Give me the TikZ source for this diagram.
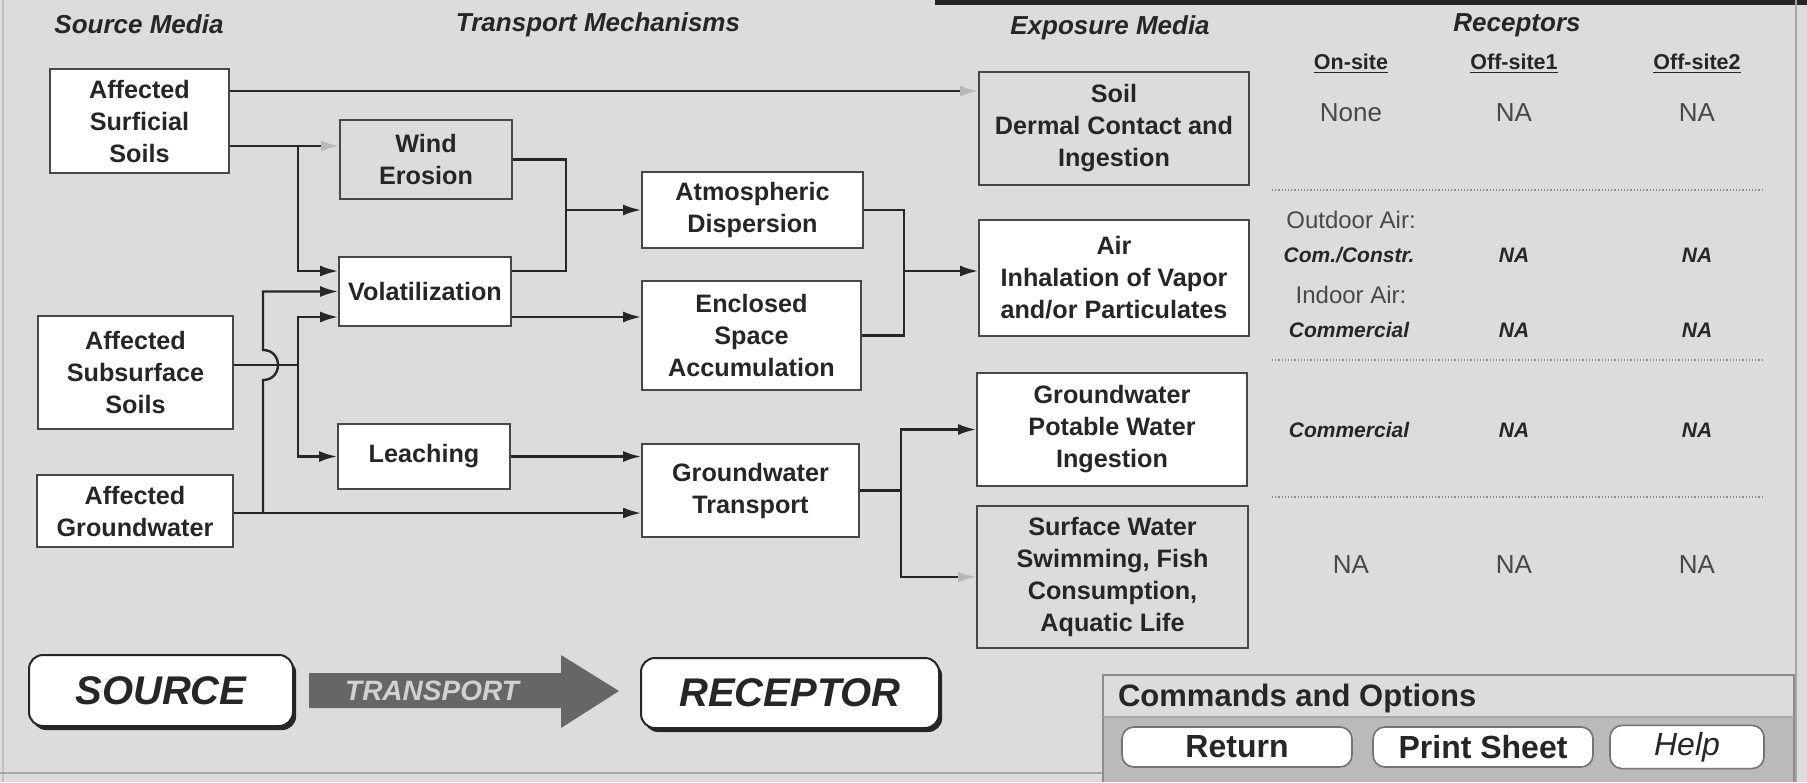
\documentclass[tikz,border=0pt]{standalone}
\usepackage{fontspec}
\setmainfont{Liberation Sans}
\usetikzlibrary{arrows.meta,shadows}

\definecolor{panelbg}{RGB}{220,220,220}
\definecolor{cmdbg}{RGB}{186,186,186}
\definecolor{edge}{RGB}{72,72,72}
\definecolor{ink}{RGB}{38,38,38}
\definecolor{soft}{RGB}{72,72,72}

\begin{document}
\begin{tikzpicture}[x=0.5pt,y=-0.5pt,
    box/.style={draw=edge, line width=0.9pt, fill=white, align=center, inner sep=0pt,
      text=ink, font=\fontsize{12.6}{16}\selectfont\bfseries},
    offbox/.style={box, fill=none},
    head/.style={text=ink, font=\fontsize{13}{16}\selectfont\bfseries\itshape},
    colhead/.style={text=ink, font=\fontsize{10.75}{13}\selectfont\bfseries},
    plain/.style={text=soft, font=\fontsize{13}{15}\selectfont},
    small/.style={text=soft, font=\fontsize{12}{14}\selectfont},
    hit/.style={text=ink, font=\fontsize{10.5}{12}\selectfont\bfseries\itshape},
    link/.style={draw=ink, line width=1.2pt},
    arr/.style={link, -{Latex[length=9pt,width=5.5pt]}},
    faint/.style={link, -{Latex[length=9pt,width=5.5pt,color=black!28]}},
    bigbtn/.style={draw=ink, line width=1pt, fill=white, rounded corners=7pt,
      drop shadow={opacity=1, fill=ink, shadow xshift=1.6pt, shadow yshift=-2pt},
      text=ink, font=\fontsize{20}{24}\selectfont\bfseries\itshape},
    cmdbtn/.style={draw=black!55, line width=0.8pt, fill=white, rounded corners=6pt,
      text=ink, font=\fontsize{16}{19}\selectfont\bfseries, minimum height=20pt},
    rule/.style={black!45, line width=0.6pt, densely dotted}
  ]
  % Background and frame
  \fill[panelbg] (0,0) rectangle (1807,782);
  \useasboundingbox (0,0) rectangle (1807,782);
  \fill[black!85] (935,0) rectangle (1807,5);
  \draw[black!35, line width=0.8pt] (1796,0) -- (1796,782);
  \draw[black!25, line width=0.8pt] (3,0) -- (3,782);
  \draw[black!35, line width=0.8pt] (0,773) -- (1103,773);

  % Column titles
  \node[head] (tSrc) at (139,24) {Source Media};
  \node[head] (tTrn) at (598,25) {Transport Mechanisms};
  \node[head] (tExp) at (1110,28) {Exposure Media};
  \node[head] (tRec) at (1517,25) {Receptors};

  % Source media
  \node[box, minimum width=89.5pt, minimum height=52pt] (surf) at (139.5,121) {Affected\\Surficial\\Soils};
  \node[box, minimum width=97.5pt, minimum height=56.5pt] (subs) at (135.5,372.5) {Affected\\Subsurface\\Soils};
  \node[box, minimum width=98pt, minimum height=36pt] (gw) at (135,511) {Affected\\Groundwater};

  % Transport mechanisms
  \node[offbox, minimum width=86pt, minimum height=39.5pt] (wind) at (426,159.5) {Wind\\Erosion};
  \node[box, minimum width=86pt, minimum height=34.5pt] (vola) at (425,291.5) {Volatilization};
  \node[box, minimum width=86pt, minimum height=32.5pt] (leach) at (424,456.5) {Leaching};
  \node[box, minimum width=110.5pt, minimum height=38pt] (atm) at (752.5,210) {Atmospheric\\Dispersion};
  \node[box, minimum width=109.5pt, minimum height=54.5pt] (encl) at (751.5,335.5) {Enclosed\\Space\\Accumulation};
  \node[box, minimum width=108.5pt, minimum height=46.5pt] (gwt) at (750.5,490.5) {Groundwater\\Transport};

  % Exposure media
  \node[offbox, minimum width=135pt, minimum height=56.5pt] (soil) at (1114,128.5) {Soil\\Dermal Contact and\\Ingestion};
  \node[box, minimum width=135pt, minimum height=58pt] (air) at (1114,278) {Air\\Inhalation of Vapor\\and/or Particulates};
  \node[box, minimum width=135pt, minimum height=56.5pt] (pot) at (1112,429.5) {Groundwater\\Potable Water\\Ingestion};
  \node[offbox, minimum width=135.5pt, minimum height=71pt] (surfw) at (1112.5,577) {Surface Water\\Swimming, Fish\\Consumption,\\Aquatic Life};

  % Levels and rails of the connectors
  \coordinate (lvTop) at (0,91);
  \coordinate (lvWind) at (0,146);
  \coordinate (lvVin) at (0,271);
  \coordinate (lvVlow) at (0,317);
  \coordinate (lvSub) at (0,365);
  \coordinate (lvGw) at (0,513);
  \coordinate (lvAir) at (0,271);
  \coordinate (rA) at (298,0);
  \coordinate (rB) at (263,0);
  \coordinate (rC) at (566,0);
  \coordinate (rD) at (904,0);
  \coordinate (rE) at (901,0);

  % Surficial soils
  \draw[faint] (surf.east |- lvTop) -- (soil.west |- lvTop);
  \draw[faint] (surf.east |- lvWind) -- (wind.west |- lvWind);
  \draw[arr] (rA |- lvWind) |- (vola.west |- lvVin);
  % Wind erosion and volatilization
  \draw[link] (wind.east) -| (rC |- lvVin) -- (vola.east |- lvVin);
  \draw[arr] (rC |- atm.west) -- (atm.west);
  \draw[arr] (vola.east |- lvVlow) -- (encl.west |- lvVlow);
  % Subsurface soils
  \draw[link] (subs.east |- lvSub) -- (rA |- lvSub);
  \draw[arr] (rA |- lvSub) |- (vola.west |- lvVlow);
  \draw[arr] (rA |- lvSub) |- (leach.west);
  % Groundwater (hop over the subsurface line)
  \draw[arr] (gw.east |- lvGw) -- (gwt.west |- lvGw);
  \draw[arr] (rB |- lvGw) -- ++(0,-133) .. controls +(20,0) and +(20,0) .. ++(0,-30) |- (vola.west);
  \draw[arr] (leach.east) -- (leach.east -| gwt.west);
  % To exposure media
  \draw[link] (atm.east) -| (rD |- encl.east) -- (encl.east);
  \draw[arr] (rD |- lvAir) -- (air.west |- lvAir);
  \draw[link] (gwt.east) -- (rE |- gwt.east);
  \draw[arr] (rE |- gwt.east) |- (pot.west);
  \draw[faint] (rE |- gwt.east) |- (surfw.west);

  % Receptors table
  \node[colhead] (hOn) at (1351,64) {\underline{On-site}};
  \node[colhead] (hOff1) at (1514,64) {\underline{Off-site1}};
  \node[colhead] (hOff2) at (1697,64) {\underline{Off-site2}};
  \node[plain] (soilOn) at (1351,113) {None};
  \node[plain] (soilOff1) at (1514,113) {NA};
  \node[plain] (soilOff2) at (1697,113) {NA};
  \draw[rule] (1272,190) -- (1763,190);
  \node[small] (outLbl) at (1351,220) {Outdoor Air:};
  \node[hit] (outOn) at (1349,255) {Com./Constr.};
  \node[hit] (outOff1) at (1514,255) {NA};
  \node[hit] (outOff2) at (1697,255) {NA};
  \node[small] (inLbl) at (1351,295) {Indoor Air:};
  \node[hit] (inOn) at (1349,330) {Commercial};
  \node[hit] (inOff1) at (1514,330) {NA};
  \node[hit] (inOff2) at (1697,330) {NA};
  \draw[rule] (1272,360) -- (1763,360);
  \node[hit] (potOn) at (1349,430) {Commercial};
  \node[hit] (potOff1) at (1514,430) {NA};
  \node[hit] (potOff2) at (1697,430) {NA};
  \draw[rule] (1272,497) -- (1763,497);
  \node[plain] (swOn) at (1351,565) {NA};
  \node[plain] (swOff1) at (1514,565) {NA};
  \node[plain] (swOff2) at (1697,565) {NA};

  % Source - transport - receptor
  \node[bigbtn, minimum width=132pt, minimum height=35.5pt] (src) at (161,690.5) {SOURCE};
  \fill[black!60] (309,673) -- (561,673) -- (561,655) -- (619,691) -- (561,728) -- (561,708) -- (309,708) -- cycle;
  \node[text=black!18, font=\fontsize{14}{16}\selectfont\bfseries\itshape] (trn) at (432,691) {TRANSPORT};
  \node[bigbtn, minimum width=149pt, minimum height=35pt] (rec) at (790,693) {RECEPTOR};

  % Commands and options
  \fill[cmdbg] (1103,717) rectangle (1794,782);
  \draw[black!45, line width=0.8pt] (1103,782) -- (1103,675) -- (1794,675) -- (1794,782);
  \draw[black!35, line width=0.6pt] (1103,717) -- (1794,717);
  \node[anchor=west, text=ink, font=\fontsize{15.5}{18}\selectfont\bfseries] (cmd) at (1111,698) {Commands and Options};
  \node[cmdbtn, minimum width=115pt] (bRet) at (1237,747) {Return};
  \node[cmdbtn, minimum width=110pt] (bPrn) at (1483,747) {Print Sheet};
  \node[cmdbtn, minimum width=77pt, font=\fontsize{16}{19}\selectfont\itshape] (bHelp) at (1687,747) {Help};
\end{tikzpicture}
\end{document}
